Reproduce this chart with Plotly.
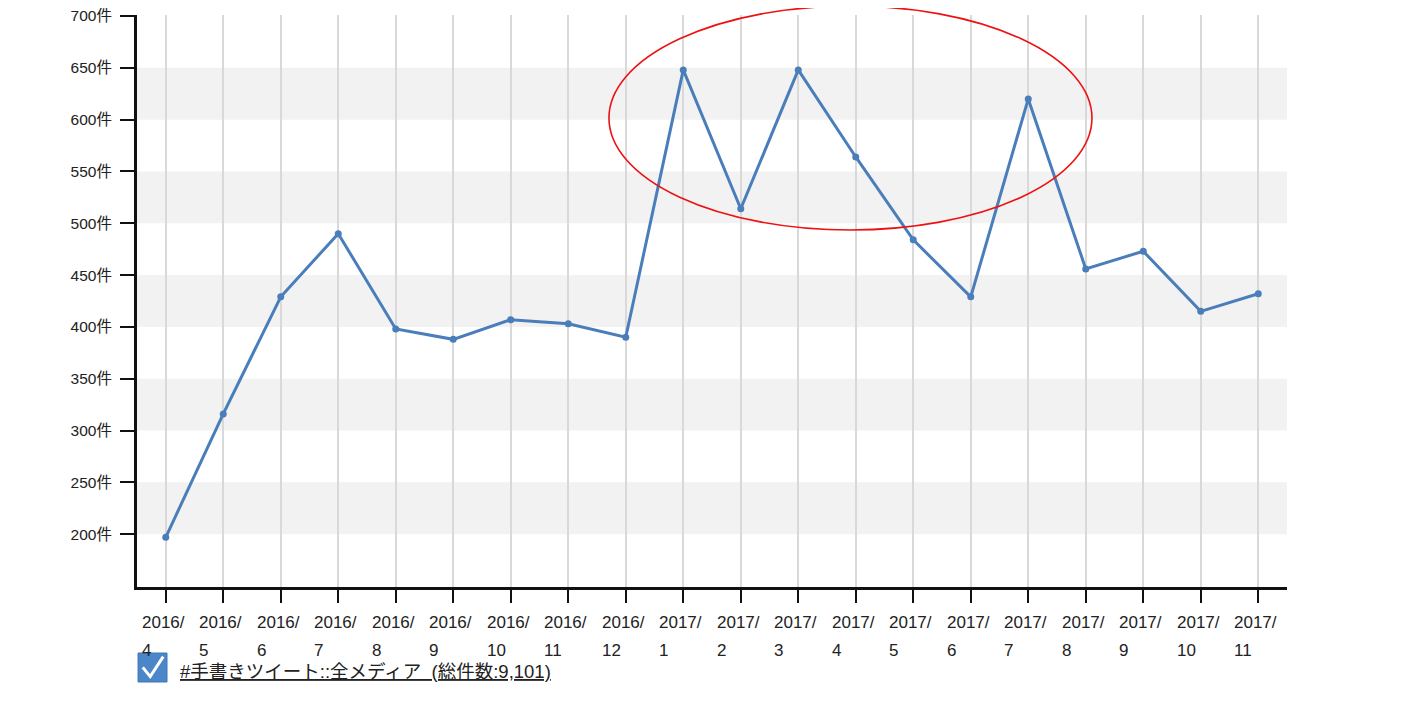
import plotly.graph_objects as go

years = ["2016", "2016", "2016", "2016", "2016", "2016", "2016", "2016", "2016",
         "2017", "2017", "2017", "2017", "2017", "2017", "2017", "2017", "2017", "2017", "2017"]
months = ["4", "5", "6", "7", "8", "9", "10", "11", "12",
          "1", "2", "3", "4", "5", "6", "7", "8", "9", "10", "11"]
counts = [197, 316, 429, 490, 398, 388, 407, 403, 390,
          648, 514, 648, 564, 484, 429, 620, 456, 473, 415, 432]
y_ticks = [200, 250, 300, 350, 400, 450, 500, 550, 600, 650, 700]
y_tick_labels = [f"{v}件" for v in y_ticks]
legend_label = "#手書きツイート::全メディア\u00a0\u00a0(総件数:9,101)"

FONT = "Arial, 'Liberation Sans', 'Noto Sans CJK JP', sans-serif"
LINE_COLOR = "#4a7ebb"

x_idx = list(range(len(counts)))

fig = go.Figure()
fig.add_trace(go.Scatter(
    x=x_idx, y=counts, mode="lines+markers",
    line=dict(color=LINE_COLOR, width=3),
    marker=dict(color=LINE_COLOR, size=7),
    showlegend=False, hoverinfo="skip",
))

shapes = []
# alternating grey bands between y ticks
for lo, hi in zip(y_ticks[:-1], y_ticks[1:]):
    if (lo // 50) % 2 == 0:
        shapes.append(dict(type="rect", xref="paper", yref="y", x0=0, x1=1, y0=lo, y1=hi,
                           fillcolor="#f2f2f2", line=dict(width=0), layer="below"))
# red ellipse highlight
shapes.append(dict(type="circle", xref="paper", yref="paper",
                   x0=0.4104, x1=0.8304, y0=0.6241, y1=1.0157,
                   line=dict(color="#ee1111", width=1.6), fillcolor="rgba(0,0,0,0)", layer="above"))
# checkbox
shapes.append(dict(type="rect", xref="paper", yref="paper",
                   x0=0.0009, x1=0.0261, y0=-0.1661, y1=-0.1154,
                   fillcolor="#4a86c8", line=dict(color="#3f78b8", width=1), layer="above"))
shapes.append(dict(type="path", xref="paper", yref="paper",
                   path="M 0.0050,-0.1406 L 0.0115,-0.1566 L 0.0228,-0.1218",
                   line=dict(color="white", width=3), layer="above"))

annotations = []
for i, (yr, mo) in enumerate(zip(years, months)):
    annotations.append(dict(x=i, y=0, xref="x", yref="paper", text=yr + "/",
                            showarrow=False, xanchor="left", yanchor="top",
                            xshift=-26, yshift=-24,
                            font=dict(family=FONT, size=17, color="#222")))
    annotations.append(dict(x=i, y=0, xref="x", yref="paper", text=mo,
                            showarrow=False, xanchor="left", yanchor="top",
                            xshift=-26, yshift=-52,
                            font=dict(family=FONT, size=17, color="#222")))
annotations.append(dict(x=0.036, y=-0.148, xref="paper", yref="paper",
                        text="<u>" + legend_label + "</u>", showarrow=False,
                        xanchor="left", yanchor="middle",
                        font=dict(family=FONT, size=18.5, color="#222")))

fig.update_layout(
    width=1425, height=713,
    margin=dict(l=129, r=146, t=7, b=134),
    paper_bgcolor="white", plot_bgcolor="white",
    font=dict(family=FONT, color="#222"),
    shapes=shapes, annotations=annotations,
    xaxis=dict(range=[-0.5, len(counts) - 0.5], tickmode="array", tickvals=x_idx,
               showticklabels=False, ticks="outside", ticklen=13, tickwidth=2, tickcolor="#111",
               showgrid=True, gridcolor="#d9d9d9", gridwidth=2, automargin=False,
               showline=True, linecolor="#111", linewidth=3, zeroline=False, fixedrange=True),
    yaxis=dict(range=[149, 701], tickmode="array", tickvals=y_ticks, ticktext=y_tick_labels,
               ticks="outside", ticklen=14, tickwidth=2, tickcolor="#111",
               ticklabelstandoff=5, ticklabeloverflow="allow", automargin=False,
               tickfont=dict(family=FONT, size=15.5, color="#222"),
               showgrid=False, showline=True, linecolor="#111", linewidth=3, zeroline=False,
               fixedrange=True),
)

fig.write_html("out.html")
